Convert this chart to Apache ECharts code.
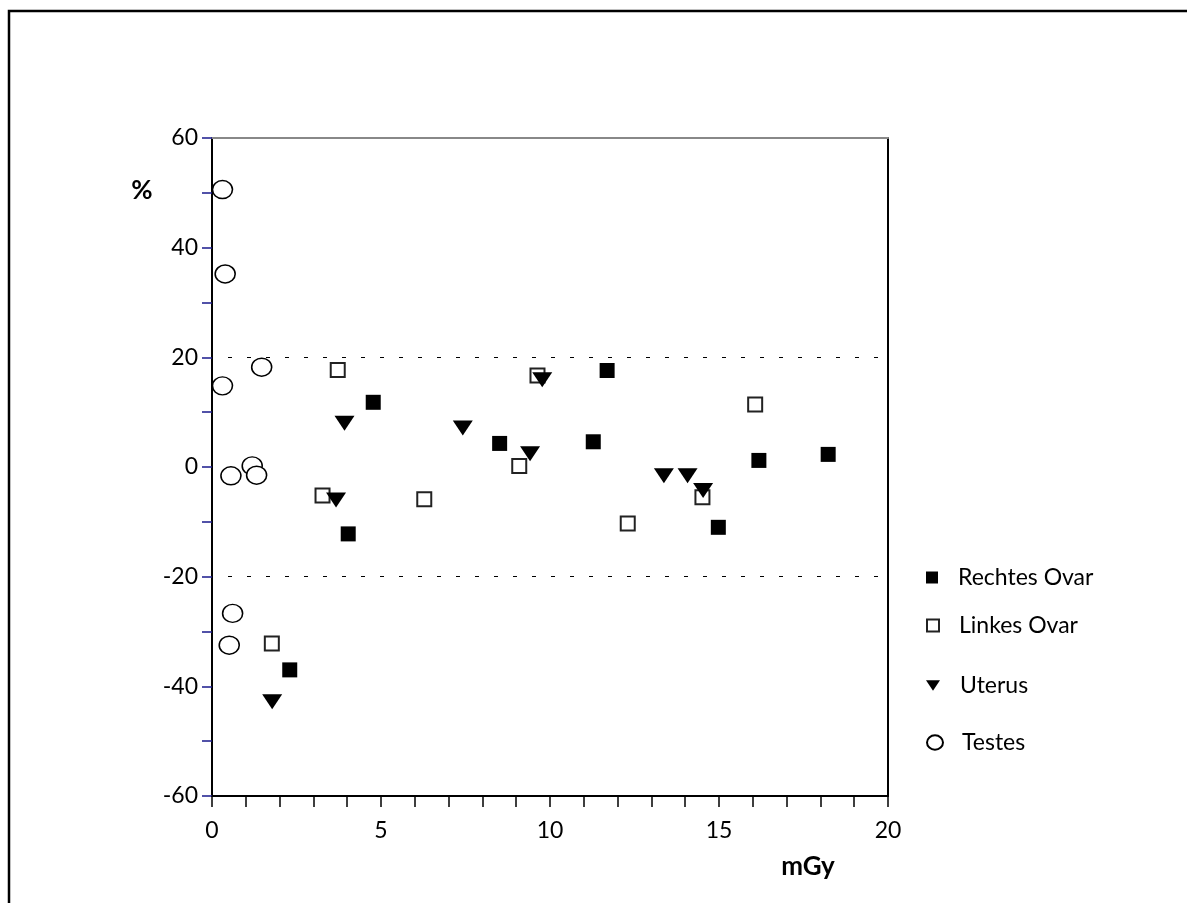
<!DOCTYPE html>
<html>
<head>
<meta charset="utf-8">
<script src="https://cdn.jsdelivr.net/npm/echarts@6/dist/echarts.min.js"></script>
<style>
html,body{margin:0;padding:0;background:#fff;}
#chart{width:1187px;height:903px;}
</style>
</head>
<body>
<div id="chart"></div>
<script>
// ---- data (x = mGy, y = %) ----
const seriesNames = ['Rechtes Ovar', 'Linkes Ovar', 'Uterus', 'Testes'];
const rechtesOvar = [[2.30,-37.0],[4.77,11.8],[4.03,-12.2],[8.51,4.3],[11.28,4.6],[11.69,17.6],[16.18,1.2],[18.23,2.3],[14.98,-11.0]];
const linkesOvar = [[1.77,-32.2],[3.72,17.7],[3.27,-5.2],[6.28,-5.9],[9.63,16.7],[9.09,0.2],[16.07,11.4],[12.30,-10.3],[14.51,-5.5]];
const uterus = [[1.78,-42.8],[3.92,8.0],[3.67,-6.0],[7.42,7.1],[9.41,2.4],[9.77,15.9],[13.37,-1.6],[14.07,-1.6],[14.53,-4.3]];
const testes = [[0.31,50.6],[0.39,35.2],[0.31,14.8],[1.47,18.2],[0.56,-1.6],[1.19,0.2],[1.32,-1.5],[0.61,-26.7],[0.51,-32.5]];
const xTickLabels = [0,5,10,15,20];
const yTickLabels = [-60,-40,-20,0,20,40,60];
const refLines = [20,-20];
const xAxisTitle = 'mGy';
const yAxisTitle = '%';

const FONT = 'Lato';
const chart = echarts.init(document.getElementById('chart'), null, {renderer:'canvas'});

const ellipsePath = 'path://M0,10A10,9 0 1,1 20,10A10,9 0 1,1 0,10Z';
const triPath = 'path://M0,0L20,0L10,15Z';

function legendAt(name, top, icon, w, h, pad) {
  return {
    data:[{name:name, icon:icon}],
    left: 921, top: top, orient:'vertical',
    itemWidth:w, itemHeight:h,
    textStyle:{fontFamily:FONT, fontSize:23, color:'#000', padding:[0,0,0,pad]},
    selectedMode:false
  };
}

const option = {
  backgroundColor:'#fff',
  animation:false,
  grid:{left:212, top:138, right:299, bottom:107, containLabel:false},
  xAxis:[{
    type:'value', min:0, max:20, interval:1,
    axisLine:{show:true, onZero:false, lineStyle:{color:'#000', width:2}},
    axisTick:{show:true, inside:false, length:11, lineStyle:{color:'#000', width:1.5}},
    axisLabel:{margin:23, fontFamily:FONT, fontSize:23, color:'#000',
      formatter:v=> xTickLabels.indexOf(v)>=0 ? String(v) : ''},
    splitLine:{show:false}
  },{
    type:'value', position:'top', min:0, max:20,
    axisLine:{show:true, onZero:false, lineStyle:{color:'#888', width:2}},
    axisTick:{show:false}, axisLabel:{show:false}, splitLine:{show:false}
  }],
  yAxis:[{
    type:'value', min:-60, max:60, interval:10,
    axisLine:{show:true, onZero:false, lineStyle:{color:'#000', width:2}},
    axisTick:{show:true, length:10, lineStyle:{color:'#1a1a8c', width:1.5}},
    axisLabel:{margin:14, fontFamily:FONT, fontSize:23, color:'#000', padding:[0,0,10,0],
      formatter:v=> yTickLabels.indexOf(v)>=0 ? String(v) : ''},
    splitLine:{show:false}
  },{
    type:'value', position:'right', min:-60, max:60,
    axisLine:{show:true, onZero:false, lineStyle:{color:'#000', width:2}},
    axisTick:{show:false}, axisLabel:{show:false}, splitLine:{show:false}
  }],
  legend:[
    legendAt(seriesNames[0], 561, 'rect', 12, 12, 15),
    legendAt(seriesNames[1], 609, 'path://M0,0L10,0L10,10L0,10Z', 12, 12, 15),
    legendAt(seriesNames[2], 669, triPath, 14, 12, 15),
    legendAt(seriesNames[3], 726, ellipsePath, 16, 15, 14)
  ],
  graphic:[
    {type:'rect', shape:{x:9, y:11, width:1300, height:1000}, style:{fill:'none', stroke:'#000', lineWidth:2.5}, silent:true},
    {type:'text', x:142, y:191, style:{text:yAxisTitle, font:'bold 26px '+FONT, fill:'#000', textAlign:'center', textVerticalAlign:'middle'}},
    {type:'text', x:808, y:867, style:{text:xAxisTitle, font:'bold 26px '+FONT, fill:'#000', textAlign:'center', textVerticalAlign:'middle'}}
  ],
  series:[
    {name:seriesNames[0], type:'scatter', data:rechtesOvar, symbol:'rect', symbolSize:15,
     itemStyle:{color:'#000', opacity:1}, z:3,
     markLine:{silent:true, symbol:['none','none'], label:{show:false},
       lineStyle:{color:'#000', type:[4,15], dashOffset:3, width:1},
       data: refLines.map(v=>[{coord:[0,v]},{coord:[20,v]}])}},
    {name:seriesNames[1], type:'scatter', data:linkesOvar, symbol:'rect', symbolSize:14,
     itemStyle:{color:'#fff', borderColor:'#222', borderWidth:2, opacity:1}, z:2},
    {name:seriesNames[2], type:'scatter', data:uterus, symbol:triPath, symbolSize:[20,15],
     itemStyle:{color:'#000', opacity:1}, z:4},
    {name:seriesNames[3], type:'scatter', data:testes, symbol:ellipsePath, symbolSize:[20,18],
     itemStyle:{color:'#fff', borderColor:'#000', borderWidth:1.5, opacity:1}, z:2}
  ]
};
chart.setOption(option);
</script>
</body>
</html>
